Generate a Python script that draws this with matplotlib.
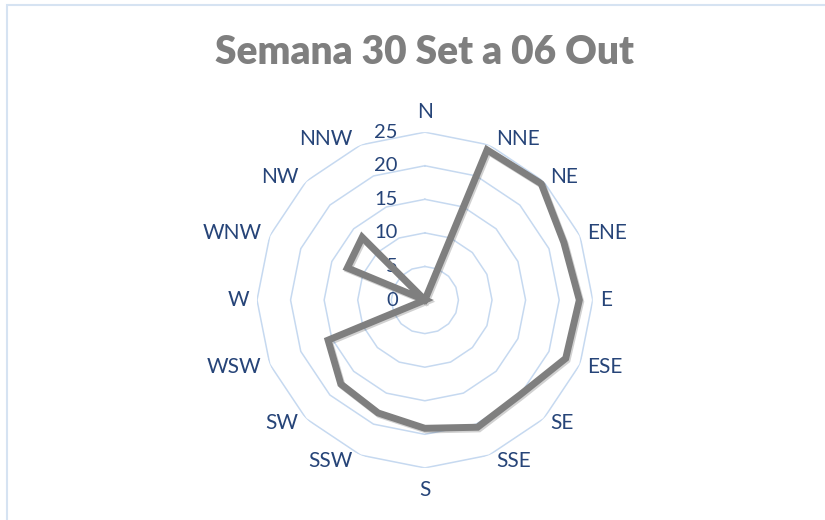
import numpy as np
import matplotlib
matplotlib.use('Agg')
import matplotlib.pyplot as plt
import matplotlib.patheffects as pe
from matplotlib.patches import Rectangle

# wind directions and values
directions = ['N', 'NNE', 'NE', 'ENE', 'E', 'ESE', 'SE', 'SSE',
              'S', 'SSW', 'SW', 'WSW', 'W', 'WNW', 'NW', 'NNW']
values = [0, 24.2, 24.5, 22.4, 23.0, 22.7, 20.0, 20.5,
          19.1, 18.2, 17.7, 15.6, 0, 12.5, 13.2, 0]
rings = [0, 5, 10, 15, 20, 25]
title = 'Semana 30 Set a 06 Out'

plt.rcParams['font.family'] = ['Lato', 'DejaVu Sans']

label_col = '#264478'
grid_col = '#c6d9f0'

fig = plt.figure(figsize=(8.25, 5.2), dpi=100)
fig.patch.set_facecolor('white')

# chart area border
fig.patches.append(Rectangle((7 / 825, -0.2), 1.2, 1.2 - 5 / 520, transform=fig.transFigure,
                             fill=False, edgecolor='#d6e3f2', linewidth=1.5))

fig.text(0.515, 0.9, title, ha='center', va='center', fontsize=28,
         fontweight='heavy', color='#7f7f7f')

ax = fig.add_axes([0.3115, 0.1, 0.407, 0.646], projection='polar')
ax.set_theta_zero_location('N')
ax.set_theta_direction(-1)
ax.set_ylim(0, 25)

angles = np.linspace(0, 2 * np.pi, len(directions), endpoint=False)
ang_closed = np.append(angles, angles[0])

# polygon gridlines like Excel
ax.grid(False)
ax.spines['polar'].set_visible(False)
for r in rings[1:]:
    ax.plot(ang_closed, [r] * len(ang_closed), color=grid_col, linewidth=1.1, zorder=1)

ax.set_xticks(angles)
ax.set_xticklabels([])
ax.set_yticks(rings)
ax.set_yticklabels([])

# category labels placed next to the outer ring, Excel style
for a, name in zip(angles, directions):
    s, c = np.sin(a), np.cos(a)
    if abs(s) < 0.01:
        ha = 'center'
        va = 'bottom' if c > 0 else 'top'
        off = (0, 10 if c > 0 else -12)
    else:
        ha = 'left' if s > 0 else 'right'
        va = 'center'
        off = (7 if s > 0 else -8, 6 * c)
    ax.annotate(name, xy=(a, rings[-1]), xytext=off, textcoords='offset pixels',
                ha=ha, va=va, color=label_col, fontsize=15, annotation_clip=False)

for r in rings:
    ax.annotate(str(r), xy=(0, r), xytext=(-27, 0), textcoords='offset pixels',
                ha='right', va='center', color=label_col, fontsize=14.5)

vals_closed = values + [values[0]]
ax.plot(ang_closed, vals_closed, color='#7f7f7f', linewidth=5, zorder=3,
        solid_joinstyle='miter',
        path_effects=[pe.SimpleLineShadow(offset=(1, -1.2), alpha=0.18), pe.Normal()])

fig.savefig('out.png', dpi=100, facecolor='white')
